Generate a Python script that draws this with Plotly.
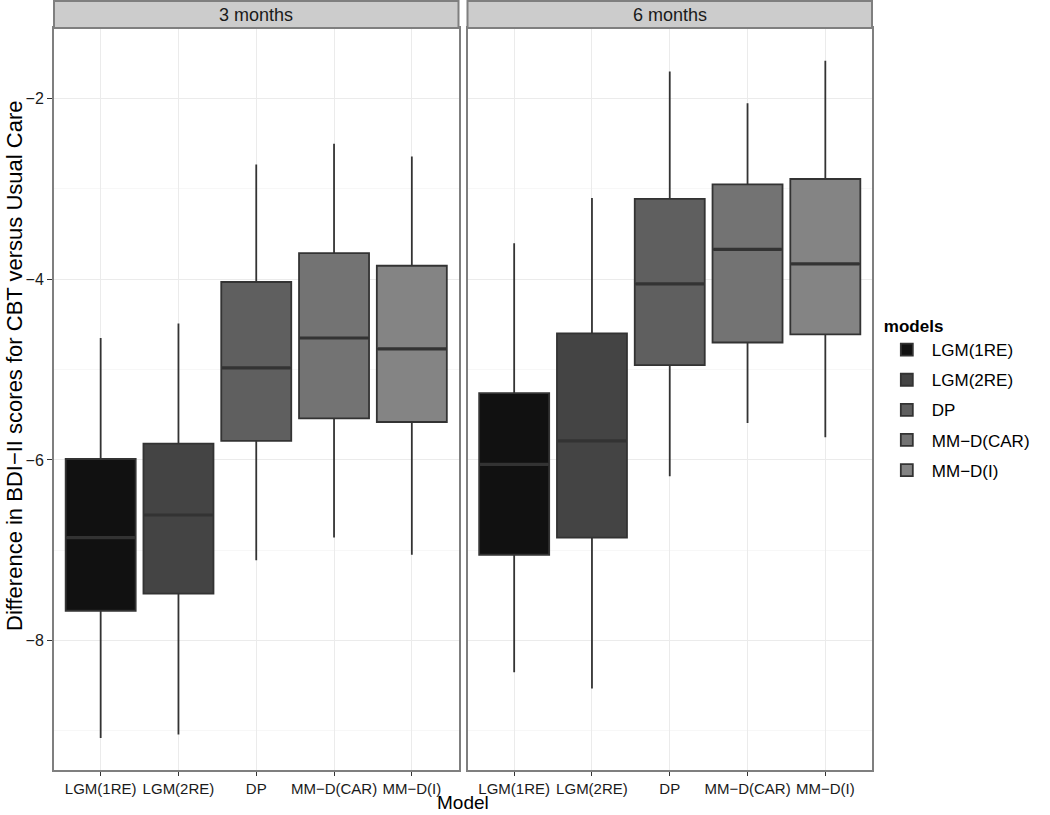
import plotly.graph_objects as go
from plotly.subplots import make_subplots

models = ["LGM(1RE)", "LGM(2RE)", "DP", "MM−D(CAR)", "MM−D(I)"]
panels = ["3 months", "6 months"]
fills = ["#111111", "#444444", "#5f5f5f", "#737373", "#848484"]

# per panel: values listed in model order
q1_3m = [-7.67, -7.48, -5.79, -5.54, -5.58]
med_3m = [-6.86, -6.61, -4.98, -4.65, -4.77]
q3_3m = [-5.99, -5.82, -4.03, -3.71, -3.85]
lo_3m = [-9.08, -9.04, -7.11, -6.86, -7.05]
hi_3m = [-4.65, -4.49, -2.73, -2.50, -2.64]

q1_6m = [-7.05, -6.86, -4.95, -4.70, -4.61]
med_6m = [-6.05, -5.79, -4.05, -3.67, -3.83]
q3_6m = [-5.26, -4.60, -3.11, -2.95, -2.89]
lo_6m = [-8.35, -8.53, -6.18, -5.59, -5.75]
hi_6m = [-3.60, -3.10, -1.70, -2.05, -1.58]

stats = [
    (q1_3m, med_3m, q3_3m, lo_3m, hi_3m),
    (q1_6m, med_6m, q3_6m, lo_6m, hi_6m),
]

BOX_W = 0.9
positions = list(range(1, len(models) + 1))

ML, MR, MT, MB = 54, 178, 28, 45
W, H = 1050, 815
plot_w = W - ML - MR
plot_h = H - MT - MB

fig = make_subplots(rows=1, cols=2, shared_yaxes=True, horizontal_spacing=9 / plot_w)

for p, (q1, med, q3, lo, hi) in enumerate(stats):
    for i, m in enumerate(models):
        fig.add_trace(
            go.Box(
                name=m,
                x=[positions[i]],
                q1=[q1[i]],
                median=[med[i]],
                q3=[q3[i]],
                lowerfence=[lo[i]],
                upperfence=[hi[i]],
                fillcolor=fills[i],
                line=dict(color="#333333", width=1.8),
                whiskerwidth=0,
                width=BOX_W,
                boxpoints=False,
                legendgroup=m,
                showlegend=(p == 0),
                hoverinfo="skip",
            ),
            row=1,
            col=p + 1,
        )
        # thicker median bar, as in ggplot
        fig.add_trace(
            go.Scatter(
                x=[positions[i] - BOX_W / 2 + 0.01, positions[i] + BOX_W / 2 - 0.01],
                y=[med[i], med[i]],
                mode="lines",
                line=dict(color="#333333", width=3.2),
                showlegend=False,
                hoverinfo="skip",
            ),
            row=1,
            col=p + 1,
        )

fig.update_layout(
    width=W,
    height=H,
    margin=dict(l=ML, r=MR, t=MT, b=MB, autoexpand=False),
    plot_bgcolor="white",
    paper_bgcolor="white",
    boxmode="overlay",
    font=dict(family="Liberation Sans, Arial, sans-serif", color="#1a1a1a"),
    legend=dict(
        title=dict(text="<b>models</b>", font=dict(size=17, color="#000000")),
        font=dict(size=17, color="#000000"),
        x=1.012,
        xanchor="left",
        y=0.5,
        yanchor="middle",
        bgcolor="white",
        tracegroupgap=5,
        itemwidth=40,
    ),
)

for c in (1, 2):
    fig.update_xaxes(
        row=1, col=c,
        range=[0.4, len(models) + 0.6],
        tickmode="array",
        tickvals=positions,
        ticktext=models,
        showgrid=True,
        gridcolor="#ebebeb",
        gridwidth=1,
        showline=True,
        linecolor="#7f7f7f",
        linewidth=2,
        mirror=True,
        ticks="outside",
        ticklen=4,
        tickcolor="#333333",
        tickfont=dict(size=15, color="#1a1a1a"),
        zeroline=False,
    )
    fig.update_yaxes(
        row=1, col=c,
        range=[-9.433, -1.218],
        tick0=0,
        dtick=2,
        showgrid=True,
        gridcolor="#ebebeb",
        gridwidth=1,
        minor=dict(dtick=1, tick0=0, showgrid=True, gridcolor="#f7f7f7", gridwidth=1),
        showline=True,
        linecolor="#7f7f7f",
        linewidth=2,
        mirror=True,
        ticks="outside" if c == 1 else "",
        ticklen=5,
        tickcolor="#333333",
        tickfont=dict(size=16, color="#1a1a1a"),
        zeroline=False,
    )

# facet strips
strip_top = 1 + 27 / plot_h
doms = [fig.layout.xaxis.domain, fig.layout.xaxis2.domain]
for d, label in zip(doms, panels):
    fig.add_shape(
        type="rect", xref="paper", yref="paper",
        x0=d[0], x1=d[1], y0=1.0, y1=strip_top,
        fillcolor="#cccccc", line=dict(color="#7f7f7f", width=2),
        layer="above",
    )
    fig.add_annotation(
        text=label, xref="paper", yref="paper",
        x=(d[0] + d[1]) / 2, y=(1 + strip_top) / 2,
        xanchor="center", yanchor="middle", showarrow=False,
        font=dict(size=18, color="#1a1a1a"),
    )

fig.add_annotation(
    text="Model", xref="paper", yref="paper",
    x=0.5, y=-(802 - (H - MB)) / plot_h, xanchor="center", yanchor="middle",
    showarrow=False, font=dict(size=19, color="#000000"),
)
fig.add_annotation(
    text="Difference in BDI−II scores for CBT versus Usual Care",
    xref="paper", yref="paper",
    x=(15 - ML) / plot_w, y=((H - MB) - 366) / plot_h,
    xanchor="center", yanchor="middle", textangle=-90,
    showarrow=False, font=dict(size=22, color="#000000"),
)

fig.write_html(
    "out.html",
    config={"displayModeBar": False},
    post_script="document.body.style.margin='0';",
)
